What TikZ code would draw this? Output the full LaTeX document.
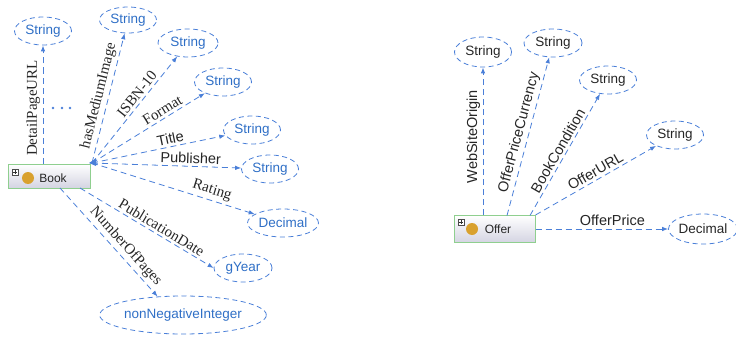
\documentclass[tikz,border=0pt]{standalone}
\usepackage{fontspec}
\setmainfont{Liberation Serif}
\setsansfont{Liberation Sans}
\usetikzlibrary{shapes.geometric,arrows.meta,calc}
\definecolor{lineblue}{HTML}{4A7FD8}
\definecolor{txtblue}{HTML}{2F6FC6}
\definecolor{boxgreen}{HTML}{8FCF8F}
\definecolor{boxbot}{HTML}{D4D4E2}
\definecolor{ballc}{HTML}{D9A12E}
\begin{document}
\begin{tikzpicture}[x=1pt,y=-1pt,
  cls/.style={rectangle, draw=boxgreen, line width=1pt, top color=white, bottom color=boxbot},
  clstxt/.style={font=\sffamily\fontsize{12}{12}\selectfont, text=black!85, inner sep=0pt},
  dt/.style={ellipse, draw=lineblue, dash pattern=on 5pt off 3.5pt, line width=0.8pt,
    font=\sffamily\fontsize{13.5}{13.5}\selectfont, text=txtblue, inner sep=0pt, minimum height=28pt},
  dtk/.style={dt, text=black!85},
  edge/.style={draw=lineblue, dash pattern=on 6pt off 4pt, line width=0.8pt,
    -{Latex[length=6pt,width=4.5pt]}},
  lbl/.style={font=\fontsize{15}{15}\selectfont, inner sep=2.5pt, text=black!85, sloped, above},
  lbls/.style={lbl, font=\sffamily\fontsize{14.5}{14.5}\selectfont},
  plusbox/.style={draw=black!70, fill=white, line width=0.5pt},
]
\useasboundingbox (0,0) rectangle (736,337);

% ---------- Book ----------
\node[cls, minimum width=82pt, minimum height=24pt] (book) at (49,176) {};
\draw[plusbox] (12,169) rectangle (18,175);
\draw[black!80, line width=0.5pt] (13,172) -- (17,172) (15,170) -- (15,174);
\fill[ballc] (28,178) circle (6);
\node[clstxt] (booktxt) at (53,178) {Book};

\node[dt, minimum width=57pt] (s1) at (43,31) {String};
\node[dt, minimum width=57pt, minimum height=26pt] (s2) at (128,20) {String};
\node[dt, minimum width=60pt] (s3) at (188,43) {String};
\node[dt, minimum width=57pt] (s4) at (223,82) {String};
\node[dt, minimum width=57pt] (s5) at (252,130) {String};
\node[dt, minimum width=57pt] (s6) at (270,169) {String};
\node[dt, minimum width=71pt] (d1) at (283,223) {Decimal};
\node[dt, minimum width=58pt] (gy) at (243,268) {gYear};
\node[dt, minimum width=160pt, minimum height=38pt] (nn) at (183,315) {nonNegativeInteger};

\coordinate (hub) at (92,163);
\coordinate (pdstart) at (80,188);
\coordinate (nopstart) at (60,188);

\draw[edge] (s1 |- book.north) -- node[lbl, pos=.47] {DetailPageURL} (s1);
\draw[edge] (hub) -- node[lbl, pos=.5] {hasMediumImage} (s2);
\draw[edge] (hub) -- node[lbl, pos=.6] {ISBN-10} (s3);
\draw[edge] (hub) -- node[lbl, pos=.66] {Format} (s4);
\draw[edge] (hub) -- node[lbls, pos=.6] {Title} (s5);
\draw[edge] (hub) -- node[lbls, pos=.66] {Publisher} (s6);
\draw[edge] (hub) -- node[lbl, pos=.72] {Rating} (d1);
\draw[edge] (pdstart) -- node[lbl, pos=.58] {PublicationDate} (gy.west);
\draw[edge] (nopstart) -- node[lbl, pos=.6] {NumberOfPages} (nn.144);
\fill[lineblue] (89,163) -- (96,158.5) -- (96,166) -- cycle;

\foreach \x in {53,62,70} \fill[lineblue] (\x,108) circle (1.4);

% ---------- Offer ----------
\node[cls, minimum width=81pt, minimum height=27pt] (offer) at (494.5,229) {};
\draw[plusbox] (458,219) rectangle (464,225);
\draw[black!80, line width=0.5pt] (459,222) -- (463,222) (461,220) -- (461,224);
\fill[ballc] (472,229) circle (6);
\node[clstxt] (offertxt) at (498,229.5) {Offer};

\node[dtk, minimum width=57pt, minimum height=30pt] (r1) at (483,52) {String};
\node[dtk, minimum width=58pt] (r2) at (553,43) {String};
\node[dtk, minimum width=57pt] (r3) at (608,80) {String};
\node[dtk, minimum width=57pt] (r4) at (675,135) {String};
\node[dtk, minimum width=68pt, minimum height=30pt] (r5) at (703,229) {Decimal};

\coordinate (opc) at (507,215.5);
\coordinate (bcs) at (530,215.5);

\draw[edge] (r1 |- offer.north) -- node[lbls, pos=.53] {WebSiteOrigin} (r1);
\draw[edge] (opc) -- node[lbls, pos=.51] {OfferPriceCurrency} (r2);
\draw[edge] (bcs) -- node[lbls, pos=.5] {BookCondition} (r3);
\draw[edge] (offer.north east) -- node[lbls, pos=.53] {OfferURL} (r4);
\draw[edge] (offer.east) -- node[lbls, pos=.58] {OfferPrice} (r5);
\end{tikzpicture}
\end{document}
